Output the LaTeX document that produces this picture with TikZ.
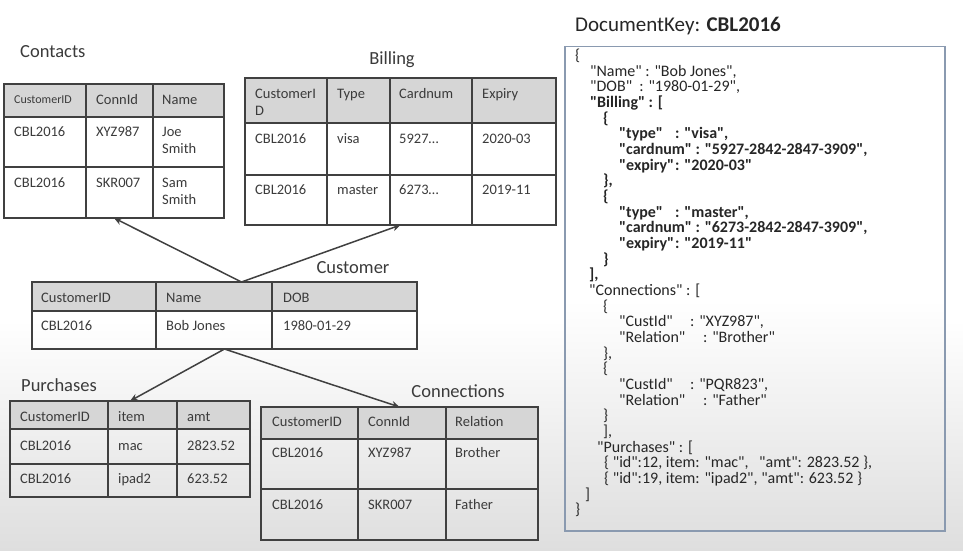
\documentclass[tikz,border=0pt]{standalone}
\usepackage{fontspec}
\setmainfont{Carlito}[Ligatures=TeXOff]
\usetikzlibrary{arrows.meta}
\definecolor{txt}{HTML}{3B3B3B}
\definecolor{jtxt}{HTML}{262626}
\definecolor{tbline}{HTML}{404040}
\definecolor{hdr}{HTML}{D6D6D6}
\definecolor{boxline}{HTML}{8A9AB0}
\definecolor{bggray}{HTML}{DEDEDE}
\newcommand\cellfont{\fontsize{14.5}{16}\selectfont}
\newcommand\smallcell{\fontsize{12}{14}\selectfont}
\newcommand\ttlfont{\fontsize{18.5}{20}\selectfont}
\newcommand\jfont{\fontsize{16}{16}\selectfont}
\newcommand\jy[1]{76+(#1-2)*15.67}
\tikzset{
  cell/.style={anchor=base west, inner sep=0pt, font=\cellfont, text=txt},
  ttl/.style={anchor=base west, inner sep=0pt, font=\ttlfont, text=txt},
  ttlc/.style={anchor=base, inner sep=0pt, font=\ttlfont, text=txt},
  frame/.style={draw=tbline, line width=1.8pt, anchor=north west, inner sep=0pt, outer sep=0pt},
  grid/.style={draw=tbline, line width=1.8pt},
  hdrfill/.style={fill=hdr},
  link/.style={draw=tbline, line width=1.5pt, -{Stealth[length=8pt,width=7pt]}},
  jl/.style={anchor=base west, inner sep=0pt, font=\jfont, text=jtxt},
  jb/.style={jl, font=\jfont\bfseries},
}
\begin{document}
\begin{tikzpicture}[x=1pt,y=-1pt]
\useasboundingbox (0,0) rectangle (963,551);
% background
\fill[white] (0,0) rectangle (963,551);
\shade[top color=white, bottom color=bggray] (0,320) rectangle (963,551);

% ---------- Contacts ----------
\node[ttl] (tContacts) at (20,58) {Contacts};
\fill[hdrfill] (4,84) rectangle (224,117);
\draw[grid] (4,117) -- (224,117) (4,167) -- (224,167) (86,84) -- (86,218) (153,84) -- (153,218);
\node[frame, minimum width=220pt, minimum height=134pt] (contacts) at (4,84) {};
\node[cell, font=\smallcell] (c11) at (14,103) {CustomerID};
\node[cell] (c12) at (96,104) {ConnId};
\node[cell] (c13) at (162,104) {Name};
\node[cell] (c21) at (14,136) {CBL2016};
\node[cell] (c22) at (96,136) {XYZ987};
\node[cell] (c23) at (162,136) {Joe};
\node[cell] (c23b) at (162,153) {Smith};
\node[cell] (c31) at (14,187) {CBL2016};
\node[cell] (c32) at (96,187) {SKR007};
\node[cell] (c33) at (162,187) {Sam};
\node[cell] (c33b) at (162,204) {Smith};

% ---------- Billing ----------
\node[ttlc] (tBilling) at (392,65) {Billing};
\fill[hdrfill] (245,78) rectangle (556,123);
\draw[grid] (245,123) -- (556,123) (245,175) -- (556,175) (327,78) -- (327,225) (390,78) -- (390,225) (472,78) -- (472,225);
\node[frame, minimum width=311pt, minimum height=147pt] (billing) at (245,78) {};
\node[cell] (b11) at (255,98) {CustomerI};
\node[cell] (b11b) at (255,115) {D};
\node[cell] (b12) at (337,98) {Type};
\node[cell] (b13) at (399,98) {Cardnum};
\node[cell] (b14) at (482,98) {Expiry};
\node[cell] (b21) at (255,143) {CBL2016};
\node[cell] (b22) at (337,143) {visa};
\node[cell] (b23) at (399,143) {5927…};
\node[cell] (b24) at (482,143) {2020-03};
\node[cell] (b31) at (255,194) {CBL2016};
\node[cell] (b32) at (337,194) {master};
\node[cell] (b33) at (399,194) {6273…};
\node[cell] (b34) at (482,194) {2019-11};

% ---------- Customer ----------
\node[ttlc] (tCustomer) at (353,273) {Customer};
\fill[hdrfill] (32,282) rectangle (417,311);
\draw[grid] (32,311) -- (417,311) (156,282) -- (156,349) (272,282) -- (272,349);
\node[frame, minimum width=385pt, minimum height=67pt] (customer) at (32,282) {};
\node[cell] (u11) at (41,302) {CustomerID};
\node[cell] (u12) at (166,302) {Name};
\node[cell] (u13) at (283,302) {DOB};
\node[cell] (u21) at (41,330) {CBL2016};
\node[cell] (u22) at (166,330) {Bob Jones};
\node[cell] (u23) at (283,330) {1980-01-29};

% ---------- Purchases ----------
\node[ttl] (tPurchases) at (21,391) {Purchases};
\fill[hdrfill] (10,401) rectangle (250,429);
\draw[grid] (10,429) -- (250,429) (10,464) -- (250,464) (108,401) -- (108,497) (177,401) -- (177,497);
\node[frame, minimum width=240pt, minimum height=96pt] (purchases) at (10,401) {};
\node[cell] (p11) at (20,421) {CustomerID};
\node[cell] (p12) at (118,421) {item};
\node[cell] (p13) at (187,421) {amt};
\node[cell] (p21) at (20,450) {CBL2016};
\node[cell] (p22) at (118,450) {mac};
\node[cell] (p23) at (187,450) {2823.52};
\node[cell] (p31) at (20,483) {CBL2016};
\node[cell] (p32) at (118,483) {ipad2};
\node[cell] (p33) at (187,483) {623.52};

% ---------- Connections ----------
\node[ttlc] (tConnections) at (458,397) {Connections};
\fill[hdrfill] (261,407) rectangle (538,439);
\draw[grid] (261,439) -- (538,439) (261,489) -- (538,489) (358,407) -- (358,540) (446,407) -- (446,540);
\node[frame, minimum width=277pt, minimum height=133pt] (connections) at (261,407) {};
\node[cell] (n11) at (272,426) {CustomerID};
\node[cell] (n12) at (368,426) {ConnId};
\node[cell] (n13) at (455,426) {Relation};
\node[cell] (n21) at (272,457) {CBL2016};
\node[cell] (n22) at (368,457) {XYZ987};
\node[cell] (n23) at (455,457) {Brother};
\node[cell] (n31) at (272,509) {CBL2016};
\node[cell] (n32) at (368,509) {SKR007};
\node[cell] (n33) at (455,509) {Father};

% ---------- connectors ----------
\coordinate (custtop) at ([xshift=17pt]customer.north);
\draw[link] (custtop) -- (contacts.south);
\draw[link] (custtop) -- (billing.south);
\draw[link] (customer.south) -- (purchases.north);
\draw[link] (customer.south) -- (connections.north);

% ---------- JSON document ----------
\node[anchor=base west, inner sep=0pt, text=jtxt, font=\fontsize{21}{24}\selectfont] (dkey) at (575,32) {DocumentKey: \textbf{CBL2016}};
\shade[top color=white, bottom color=white!88!black] (564,300) rectangle (944,530);
\node[draw=boxline, line width=1.5pt, anchor=north west, minimum width=380pt, minimum height=484pt, inner sep=0pt] (doc) at (564,46) {};

\node[jl] (j1) at (575,{\jy{1}}) {\{};
\node[jl] (j2) at (590,{\jy{2}}) {"Name" : "Bob Jones",};
\node[jl] (j3) at (590,{\jy{3}}) {"DOB"\ \ : "1980-01-29",};
\node[jb] (j4) at (590,{\jy{4}}) {"Billing" : [};
\node[jb] (j5) at (603,{\jy{5}}) {\{};
\node[jb] (j6) at (619,{\jy{6}}) {\makebox[56pt][l]{"type"}: "visa",};
\node[jb] (j7) at (619,{\jy{7}}) {"cardnum" : "5927-2842-2847-3909",};
\node[jb] (j8) at (619,{\jy{8}}) {\makebox[56pt][l]{"expiry"}: "2020-03"};
\node[jb] (j9) at (603,{\jy{9}}) {\},};
\node[jb] (j10) at (603,{\jy{10}}) {\{};
\node[jb] (j11) at (619,{\jy{11}}) {\makebox[56pt][l]{"type"}: "master",};
\node[jb] (j12) at (619,{\jy{12}}) {"cardnum" : "6273-2842-2847-3909",};
\node[jb] (j13) at (619,{\jy{13}}) {\makebox[56pt][l]{"expiry"}: "2019-11"};
\node[jb] (j14) at (603,{\jy{14}}) {\}};
\node[jb] (j15) at (589,{\jy{15}}) {],};
\node[jl] (j16) at (589,{\jy{16}}) {"Connections" : [};
\node[jl] (j17) at (603,{\jy{17}}) {\{};
\node[jl] (j18) at (619,{\jy{18}}) {\makebox[71pt][l]{"CustId"}: "XYZ987",};
\node[jl] (j19) at (619,{\jy{19}}) {\makebox[84pt][l]{"Relation"}: "Brother"};
\node[jl] (j20) at (603,{\jy{20}}) {\},};
\node[jl] (j21) at (603,{\jy{21}}) {\{};
\node[jl] (j22) at (619,{\jy{22}}) {\makebox[71pt][l]{"CustId"}: "PQR823",};
\node[jl] (j23) at (619,{\jy{23}}) {\makebox[84pt][l]{"Relation"}: "Father"};
\node[jl] (j24) at (603,{\jy{24}}) {\}};
\node[jl] (j25) at (603,{\jy{25}}) {],};
\node[jl] (j26) at (597,{\jy{26}}) {"Purchases" : [};
\node[jl] (j27) at (604,{\jy{27}}) {\makebox[155pt][l]{\{ "id":12, item: "mac",}"amt": 2823.52 \},};
\node[jl] (j28) at (604,{\jy{28}}) {\{ "id":19, item: "ipad2", "amt": 623.52 \}};
\node[jl] (j29) at (585,{\jy{29}}) {]};
\node[jl] (j30) at (575,{\jy{30}}) {\}};
\end{tikzpicture}
\end{document}
